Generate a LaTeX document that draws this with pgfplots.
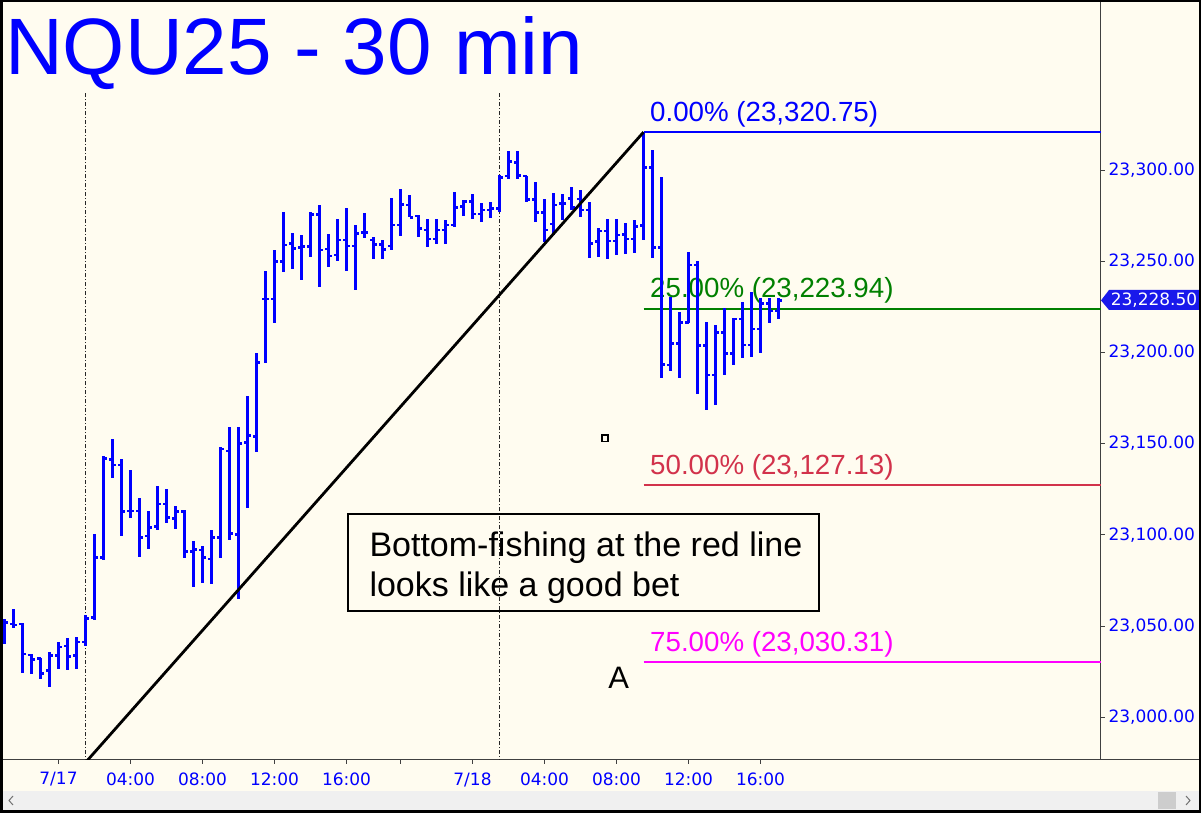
\documentclass[border=0pt]{standalone}
\usepackage{pgfplots}
\pgfplotsset{compat=1.18}
\usepackage{pgfplotstable}
\usepackage{fontspec}
\setmainfont{Liberation Sans}
\newfontfamily\dejavu{DejaVu Sans}
\definecolor{bg}{RGB}{255,252,240}
\definecolor{barblue}{RGB}{0,0,255}
\definecolor{fibgreen}{RGB}{0,128,0}
\definecolor{fibred}{RGB}{210,50,75}
\definecolor{fibmag}{RGB}{255,0,255}
\definecolor{tagblue}{RGB}{25,25,235}
\definecolor{sbar}{RGB}{240,240,240}
\definecolor{sthumb}{RGB}{205,205,205}

\pgfplotstableread{
x O H L C
-6 23051.8 23054.2 23040.5 23051.8
-5 23051.1 23059.3 23048.8 23050.6
-4 23051.1 23051.8 23024.4 23034.7
-3 23034.1 23034.7 23024.1 23031.8
-2 23032.3 23032.7 23020.8 23024.1
-1 23025.5 23035.6 23016.4 23034.0
0 23034.0 23041.3 23026.6 23038.5
1 23039.1 23043.3 23025.9 23033.2
2 23034.0 23043.8 23026.3 23041.3
3 23041.3 23056.4 23039.1 23054.2
4 23054.6 23100.8 23053.3 23087.5
5 23087.5 23143.2 23086.2 23142.0
6 23141.4 23152.5 23131.3 23138.3
7 23138.3 23141.4 23099.5 23112.7
8 23113.1 23135.9 23109.1 23113.1
9 23113.1 23120.0 23088.0 23098.7
10 23099.4 23113.1 23092.6 23104.1
11 23104.5 23126.8 23103.0 23116.9
12 23116.9 23125.1 23106.3 23109.6
13 23109.1 23115.6 23103.0 23112.7
14 23112.7 23113.6 23087.1 23090.8
15 23090.8 23096.6 23071.6 23092.2
16 23091.7 23093.9 23073.4 23087.7
17 23086.8 23102.7 23072.9 23098.4
18 23098.4 23148.0 23087.1 23147.1
19 23146.0 23159.1 23097.2 23100.8
20 23100.3 23159.1 23065.2 23150.2
21 23150.7 23176.1 23114.5 23154.3
22 23153.8 23199.5 23145.6 23194.6
23 23229.3 23244.6 23194.0 23229.3
24 23229.3 23256.1 23216.3 23249.7
25 23249.7 23276.8 23244.3 23258.9
26 23259.8 23265.6 23245.9 23257.1
27 23257.6 23264.4 23240.1 23258.0
28 23258.0 23276.8 23252.5 23275.7
29 23275.7 23280.7 23236.0 23256.1
30 23256.7 23265.3 23247.0 23252.9
31 23253.4 23273.0 23250.3 23261.6
32 23261.6 23279.0 23244.8 23258.3
33 23258.3 23270.2 23234.2 23265.3
34 23265.6 23276.4 23262.6 23265.6
35 23261.6 23263.4 23251.1 23259.3
36 23259.3 23261.6 23251.1 23256.5
37 23258.3 23285.0 23256.1 23269.9
38 23269.9 23289.4 23264.0 23281.2
39 23280.8 23286.3 23274.1 23274.1
40 23274.8 23275.3 23263.4 23268.0
41 23267.1 23273.0 23258.0 23262.2
42 23262.2 23273.0 23259.8 23267.1
43 23267.1 23272.6 23259.4 23269.9
44 23269.9 23287.8 23268.6 23279.6
45 23279.9 23283.6 23274.8 23282.6
46 23282.6 23286.8 23273.5 23275.9
47 23275.9 23281.7 23271.7 23278.1
48 23278.1 23282.6 23273.5 23279.0
49 23279.0 23297.3 23277.1 23296.0
50 23296.7 23310.4 23294.9 23304.6
51 23304.0 23310.4 23294.9 23296.9
52 23296.7 23296.7 23282.6 23283.9
53 23283.9 23293.3 23271.7 23276.6
54 23276.6 23284.1 23260.7 23267.1
55 23270.4 23287.4 23264.4 23280.8
56 23281.8 23286.7 23272.6 23281.8
57 23284.5 23290.9 23278.1 23279.3
58 23284.1 23289.0 23274.4 23278.1
59 23278.1 23282.3 23251.9 23259.8
60 23260.7 23268.0 23252.5 23266.6
61 23266.6 23273.5 23251.1 23261.1
62 23261.1 23273.0 23253.4 23264.4
63 23264.8 23270.8 23253.8 23262.2
64 23262.2 23273.0 23254.7 23268.9
65 23269.5 23320.75 23261.6 23301.3
66 23301.3 23311.0 23251.9 23257.6
67 23257.6 23296.0 23186.1 23193.5
68 23193.1 23230.6 23189.8 23205.0
69 23205.0 23222.3 23186.1 23216.5
70 23216.5 23254.9 23216.5 23247.9
71 23247.9 23250.1 23177.0 23203.7
72 23203.7 23216.5 23168.4 23187.6
73 23187.6 23215.0 23171.2 23211.0
74 23211.0 23224.2 23188.0 23199.5
75 23199.5 23219.0 23193.1 23218.3
76 23218.3 23227.5 23197.1 23204.1
77 23204.1 23233.0 23197.7 23212.8
78 23212.8 23229.7 23199.5 23226.9
79 23226.9 23230.0 23216.5 23222.7
80 23222.7 23229.7 23218.3 23228.5
}\bars

\begin{document}
\begin{tikzpicture}
\path[use as bounding box] (0pt,0pt) rectangle (1201pt,813pt);
\fill[bg] (0pt,0pt) rectangle (1201pt,813pt);
% scrollbar
\fill[sbar] (2pt,2pt) rectangle (1199pt,22pt);
\fill[sthumb] (1158pt,4pt) rectangle (1176pt,21pt);
\draw[black!55, line width=1pt] (13pt,17pt) -- (9pt,12.5pt) -- (13pt,8pt);
\draw[black!55, line width=1pt] (1186pt,17pt) -- (1190pt,12.5pt) -- (1186pt,8pt);

\begin{axis}[
  at={(2pt,53pt)}, anchor=south west,
  scale only axis, width=1099pt, height=758pt,
  xmin=-6.28, xmax=115.83, ymin=22976.6, ymax=23392.1,
  axis x line*=bottom, axis y line*=right,
  axis line style={draw=black!75, line width=1pt},
  scaled ticks=false,
  xtick={0,8,16,24,32,38,46,54,62,70,78},
  xticklabels={7/17,04:00,08:00,12:00,16:00,,7/18,04:00,08:00,12:00,16:00},
  ytick={23000,23050,23100,23150,23200,23250,23300},
  yticklabels={{23,000.00},{23,050.00},{23,100.00},{23,150.00},{23,200.00},{23,250.00},{23,300.00}},
  tick align=outside, major tick length=4pt,
  tick style={black!75, line width=0.8pt},
  ticklabel style={font=\dejavu\fontsize{17}{19}\selectfont, text=barblue},
  xticklabel style={yshift=-5pt},
  clip=true,
]
% dashed session lines
\addplot[black!85, line width=0.9pt, dash pattern=on 4pt off 2pt on 1pt off 2pt] coordinates {(2.95,22970) (2.95,23342.8)};
\addplot[black!85, line width=0.9pt, dash pattern=on 4pt off 2pt on 1pt off 2pt] coordinates {(48.95,22970) (48.95,23342.8)};
% fib levels
\addplot[barblue, line width=2pt] coordinates {(65,23320.75) (117,23320.75)};
\addplot[fibgreen, line width=2pt] coordinates {(65,23223.94) (117,23223.94)};
\addplot[fibred, line width=2pt] coordinates {(65,23127.13) (117,23127.13)};
\addplot[fibmag, line width=2pt] coordinates {(65,23030.31) (117,23030.31)};
\node[anchor=base west, inner sep=0pt, text=barblue, font=\fontsize{27.7}{30}\selectfont, xshift=6.5pt, yshift=11pt] at (axis cs:65,23320.75) {0.00\% (23,320.75)};
\node[anchor=base west, inner sep=0pt, text=fibgreen, font=\fontsize{27.7}{30}\selectfont, xshift=6.5pt, yshift=11pt] at (axis cs:65,23223.94) {25.00\% (23,223.94)};
\node[anchor=base west, inner sep=0pt, text=fibred, font=\fontsize{27.7}{30}\selectfont, xshift=6.5pt, yshift=11pt] at (axis cs:65,23127.13) {50.00\% (23,127.13)};
\node[anchor=base west, inner sep=0pt, text=fibmag, font=\fontsize{27.7}{30}\selectfont, xshift=6.5pt, yshift=11pt] at (axis cs:65,23030.31) {75.00\% (23,030.31)};
% OHLC bars
\addplot[draw=none, mark=none, forget plot, error bars/.cd, y dir=both, y explicit, error mark=none, error bar style={draw=barblue, line width=2.4pt}]
  table[x=x, y expr=(\thisrow{H}+\thisrow{L})/2, y error expr=(\thisrow{H}-\thisrow{L})/2] {\bars};
\addplot[draw=none, mark=none, forget plot, error bars/.cd, x dir=both, x fixed=0.21, error mark=none, error bar style={draw=barblue, line width=2.8pt}]
  table[x expr=\thisrow{x}-0.21, y=O] {\bars};
\addplot[draw=none, mark=none, forget plot, error bars/.cd, x dir=both, x fixed=0.21, error mark=none, error bar style={draw=barblue, line width=2.8pt}]
  table[x expr=\thisrow{x}+0.21, y=C] {\bars};
% trend line
\addplot[black, line width=2.8pt] coordinates {(0,22958.5) (65,23320.75)};
% marker
\addplot[only marks, mark=square, mark size=3.2pt, mark options={draw=black, line width=1.8pt}] coordinates {(60.72,23152.9)};
\end{axis}

\draw[black!75, line width=1pt] (1101pt,53pt) -- (1199pt,53pt);
% title
\node[anchor=base west, inner sep=0pt, text=barblue, font=\fontsize{80}{90}\selectfont] at (5pt,738pt) {NQU25 - 30 min};
% comment box
\draw[black, line width=2.6pt] (348pt,202pt) rectangle (819pt,299pt);
\node[anchor=base west, inner sep=0pt, font=\fontsize{34}{38}\selectfont] at (369.3pt,256pt) {Bottom-fishing at the red line};
\node[anchor=base west, inner sep=0pt, font=\fontsize{34}{38}\selectfont] at (369.3pt,216pt) {looks like a good bet};
\node[anchor=base, inner sep=0pt, font=\fontsize{31}{36}\selectfont] at (618.7pt,124.7pt) {A};
% price tag
\fill[tagblue] (1101pt,512.6pt) -- (1109pt,523pt) -- (1199pt,523pt) -- (1199pt,503pt) -- (1109pt,503pt) -- cycle;
\node[text=white, inner sep=0pt, font=\dejavu\fontsize{17}{19}\selectfont] at (1154pt,513pt) {23,228.50};
% frame
\draw[black, line width=2.5pt] (1.25pt,1.25pt) rectangle (1199.75pt,811.75pt);
\end{tikzpicture}
\end{document}
